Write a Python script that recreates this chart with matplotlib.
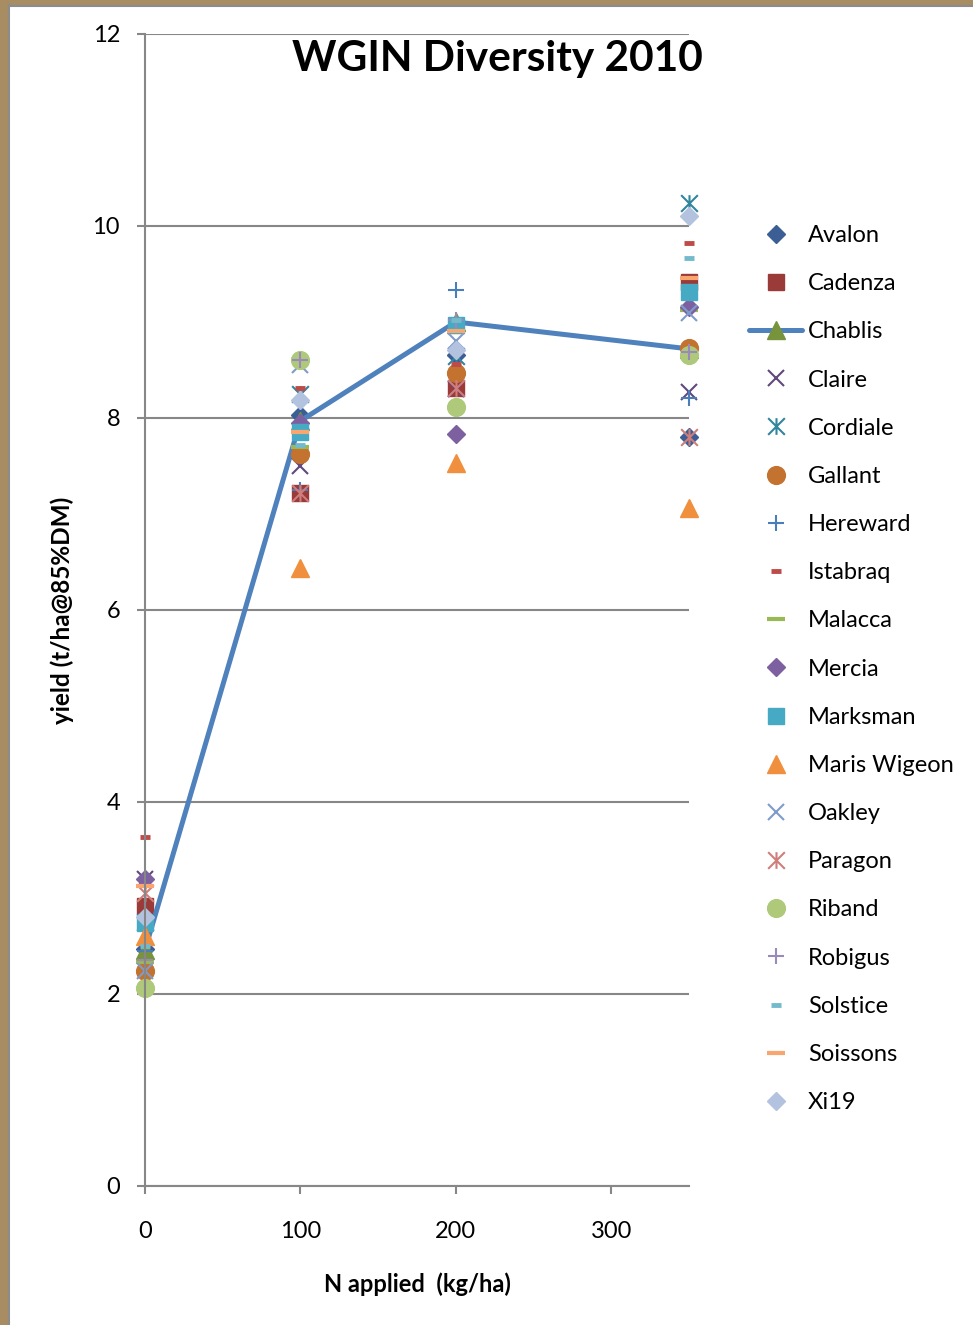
import matplotlib
matplotlib.use("Agg")
import matplotlib.pyplot as plt
from matplotlib.path import Path
from matplotlib.patches import Rectangle

plt.rcParams['font.family'] = ['Lato', 'DejaVu Sans']

# Nitrogen applied (kg/ha)
n_applied = [0, 100, 200, 350]

# Yield (t/ha @ 85% DM) per variety
avalon = [2.47, 8.03, 8.66, 7.80]
cadenza = [2.92, 7.22, 8.31, 9.42]
chablis = [2.46, 7.97, 9.00, 8.72]
claire = [3.20, 7.50, 8.30, 8.27]
cordiale = [2.75, 8.25, 8.65, 10.24]
gallant = [2.24, 7.63, 8.47, 8.73]
hereward = [2.45, 7.25, 9.33, 8.21]
istabraq = [3.64, 8.31, 8.56, 9.82]
malacca = [2.33, 7.70, 8.90, 9.13]
mercia = [3.20, 7.95, 7.83, 9.16]
marksman = [2.74, 7.85, 8.97, 9.31]
maris_wigeon = [2.60, 6.44, 7.53, 7.06]
oakley = [2.24, 8.55, 8.80, 9.09]
paragon = [3.05, 7.22, 8.31, 7.80]
riband = [2.06, 8.60, 8.11, 8.66]
robigus = [2.35, 8.60, 9.02, 8.69]
solstice = [2.50, 7.72, 9.02, 9.67]
soissons = [3.13, 7.85, 8.91, 9.46]
xi19 = [2.80, 8.19, 8.71, 10.10]

varieties = ["Avalon", "Cadenza", "Chablis", "Claire", "Cordiale", "Gallant",
             "Hereward", "Istabraq", "Malacca", "Mercia", "Marksman",
             "Maris Wigeon", "Oakley", "Paragon", "Riband", "Robigus",
             "Solstice", "Soissons", "Xi19"]
yields = [avalon, cadenza, chablis, claire, cordiale, gallant, hereward,
          istabraq, malacca, mercia, marksman, maris_wigeon, oakley, paragon,
          riband, robigus, solstice, soissons, xi19]

# asterisk: an X crossed by a vertical stroke
asterisk = Path([(0, -1), (0, 1), (-1, -1), (1, 1), (-1, 1), (1, -1)],
                [Path.MOVETO, Path.LINETO] * 3)

styles = {
    "Avalon":       dict(marker="D", ms=8.8, color="#3B5F95"),
    "Cadenza":      dict(marker="s", ms=12.2, color="#9A3B39"),
    "Chablis":      dict(marker="^", ms=12.8, color="#77933C"),
    "Claire":       dict(marker="x", ms=11.5, color="#604A7B", mew=1.5),
    "Cordiale":     dict(marker=asterisk, ms=12.0, color="#31859C", mew=1.5),
    "Gallant":      dict(marker="o", ms=12.8, color="#C3722F"),
    "Hereward":     dict(marker="+", ms=12.0, color="#4A7EBB", mew=1.5),
    "Istabraq":     dict(marker="_", ms=7.0, color="#BE4B48", mew=3.5),
    "Malacca":      dict(marker="_", ms=12.5, color="#98B954", mew=3.0),
    "Mercia":       dict(marker="D", ms=8.8, color="#7D60A0"),
    "Marksman":     dict(marker="s", ms=12.2, color="#46AAC5"),
    "Maris Wigeon": dict(marker="^", ms=12.8, color="#F0903E"),
    "Oakley":       dict(marker="x", ms=11.5, color="#7E9CCB", mew=1.5),
    "Paragon":      dict(marker=asterisk, ms=12.0, color="#CF7E7C", mew=1.5),
    "Riband":       dict(marker="o", ms=12.8, color="#AFC97A"),
    "Robigus":      dict(marker="+", ms=12.0, color="#9A89BB", mew=1.5),
    "Solstice":     dict(marker="_", ms=7.0, color="#74BACD", mew=3.5),
    "Soissons":     dict(marker="_", ms=12.5, color="#F8A56F", mew=3.0),
    "Xi19":         dict(marker="D", ms=8.8, color="#B3C3DF"),
}

W, H = 973, 1325
fig = plt.figure(figsize=(W / 100, H / 100), dpi=100)
fig.patch.set_facecolor("white")

# textured frame strip along the left and top edges
fig.patches.append(Rectangle((0, 0), 8 / W, 1, transform=fig.transFigure,
                             facecolor="#A88C62", edgecolor="none", zorder=0))
fig.patches.append(Rectangle((0, 1 - 5 / H), 1, 5 / H, transform=fig.transFigure,
                             facecolor="#A88C62", edgecolor="none", zorder=0))
fig.add_artist(plt.Line2D([9 / W, 9 / W], [0, 1 - 5 / H], transform=fig.transFigure,
                          color="#8C8C8C", lw=1.5))
fig.add_artist(plt.Line2D([9 / W, 1], [1 - 6 / H, 1 - 6 / H], transform=fig.transFigure,
                          color="#8C8C8C", lw=1.5))

ax = fig.add_axes([145 / W, (H - 1186) / H, (689 - 145) / W, (1186 - 34) / H])

handles = []
for name, vals in zip(varieties, yields):
    st = styles[name]
    if name == "Chablis":
        h, = ax.plot(n_applied, vals, linestyle="-", color="#4F81BD", lw=3.6,
                     marker=st["marker"], ms=st["ms"], mfc=st["color"],
                     mec=st["color"], solid_capstyle="round", label=name,
                     clip_on=False)
    else:
        h, = ax.plot(n_applied, vals, linestyle="none", marker=st["marker"],
                     ms=st["ms"], color=st["color"], mew=st.get("mew", 1.0),
                     label=name, clip_on=False)
    handles.append(h)

ax.set_xlim(0, 350)
ax.set_ylim(0, 12)
ax.set_xticks([0, 100, 200, 300])
ax.set_yticks([0, 2, 4, 6, 8, 10, 12])
ax.grid(axis="y", color="#878787", lw=1.5)
ax.set_axisbelow(True)
for side in ("top", "right"):
    ax.spines[side].set_visible(False)
for side in ("left", "bottom"):
    ax.spines[side].set_color("#878787")
    ax.spines[side].set_linewidth(1.5)
ax.tick_params(axis="both", colors="#878787", width=1.5, length=6,
               labelcolor="black", labelsize=17)
ax.tick_params(axis="y", pad=12)
ax.tick_params(axis="x", pad=19)

ax.set_xlabel("N applied  (kg/ha)", fontsize=17, fontweight="bold", labelpad=22)
ax.set_ylabel("yield (t/ha@85%DM)", fontsize=17.5, fontweight="bold", labelpad=13)

fig.text(497 / W, 1 - 59 / H, "WGIN Diversity 2010", ha="center", va="center",
         fontsize=30.5, fontweight="bold")

leg = fig.legend(handles=handles, loc="upper left",
                 bbox_to_anchor=(749 / W, 1 - 225 / H), frameon=False,
                 fontsize=17, handlelength=2.25, handletextpad=0.25,
                 labelspacing=1.151, borderpad=0, borderaxespad=0, numpoints=1)

fig.savefig("out.png", dpi=100)
